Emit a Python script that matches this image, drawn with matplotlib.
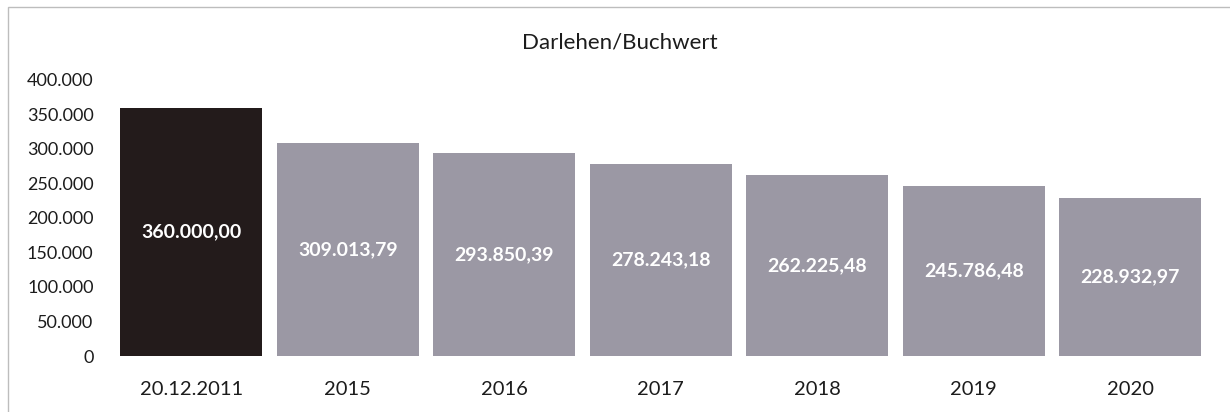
import matplotlib
matplotlib.use('Agg')
import matplotlib.pyplot as plt
from matplotlib.patches import Rectangle
from matplotlib.ticker import FuncFormatter

categories = ['20.12.2011', '2015', '2016', '2017', '2018', '2019', '2020']
values = [360000.00, 309013.79, 293850.39, 278243.18, 262225.48, 245786.48, 228932.97]
value_labels = ['360.000,00', '309.013,79', '293.850,39', '278.243,18',
                '262.225,48', '245.786,48', '228.932,97']

plt.rcParams['font.family'] = ['Lato', 'DejaVu Sans']

fig = plt.figure(figsize=(12.3, 4.12), dpi=100)
ax = fig.add_axes([0.0919, 0.1359, 0.8906, 0.6700])

colors = ['#231b1b'] + ['#9b98a4'] * (len(values) - 1)
x = range(len(categories))
bars = ax.bar(x, values, width=0.91, color=colors)

for b, lab in zip(bars, value_labels):
    ax.text(b.get_x() + b.get_width() / 2, b.get_height() / 2, lab,
            ha='center', va='center', color='white', fontsize=14, fontweight='bold')

ax.set_xlim(-0.5, len(categories) - 0.5)
ax.set_ylim(0, 400000)
ax.set_yticks(range(0, 400001, 50000))
ax.yaxis.set_major_formatter(FuncFormatter(lambda v, p: f'{int(v):,}'.replace(',', '.')))
ax.set_xticks(list(x))
ax.set_xticklabels(categories)
ax.tick_params(axis='y', length=0, pad=14, labelsize=13, labelcolor='#1c1c1c')
ax.tick_params(axis='x', length=0, pad=18, labelsize=14.5, labelcolor='#1c1c1c')
for s in ax.spines.values():
    s.set_visible(False)

fig.text(0.5037, 0.898, 'Darlehen/Buchwert', ha='center', va='center',
         fontsize=16, color='#1c1c1c')

# light frame around the chart
fig.patches.append(Rectangle((0.0065, -0.01), 1.0, 0.993, transform=fig.transFigure,
                             fill=False, edgecolor='#bdbdbd', linewidth=1))

fig.savefig('out.png', dpi=100)
